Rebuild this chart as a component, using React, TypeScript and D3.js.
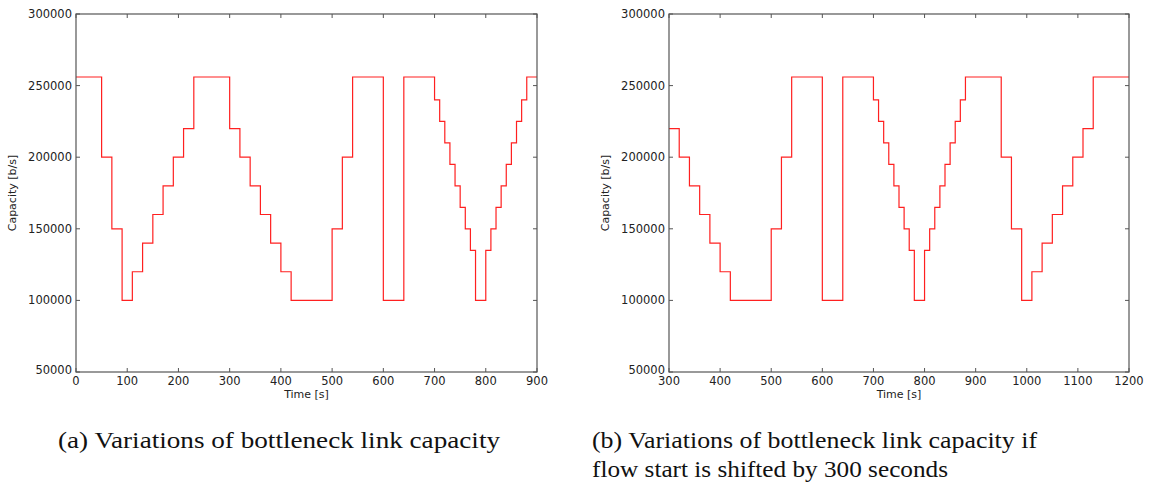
import React, { useEffect, useRef } from 'react';
import * as d3 from 'd3';

// step changes of the bottleneck capacity (time in s, capacity in b/s)
const stepTimes = [0, 50, 70, 90, 110, 130, 150, 170, 190, 210, 230, 300, 320, 340, 360, 380, 400, 420, 500, 520, 540, 600, 640,
    700, 710, 720, 730, 740, 750, 760, 770, 780, 800, 810, 820, 830, 840, 850, 860, 870, 880,
    950, 970, 990, 1010, 1030, 1050, 1070, 1090, 1110, 1130];
const stepCapacity = [256000, 200000, 150000, 100000, 120000, 140000, 160000, 180000, 200000, 220000, 256000,
    220000, 200000, 180000, 160000, 140000, 120000, 100000, 150000, 200000, 256000, 100000, 256000,
    240000, 225000, 210000, 195000, 180000, 165000, 150000, 135000, 100000, 135000, 150000, 165000, 180000, 195000, 210000, 225000, 240000, 256000,
    200000, 150000, 100000, 120000, 140000, 160000, 180000, 200000, 220000, 256000];

const yTicks = [50000, 100000, 150000, 200000, 250000, 300000];
const xTicksA = [0, 100, 200, 300, 400, 500, 600, 700, 800, 900];
const xTicksB = [300, 400, 500, 600, 700, 800, 900, 1000, 1100, 1200];
const captionA = ['(a) Variations of bottleneck link capacity'];
const captionB = ['(b) Variations of bottleneck link capacity if', 'flow start is shifted by 300 seconds'];

const valueAt = (t: number) => {
    let v = stepCapacity[0];
    stepTimes.forEach((s, i) => { if (s <= t) v = stepCapacity[i]; });
    return v;
};

const App = () => {
    const svgRef = useRef<SVGSVGElement>(null);

    useEffect(() => {
        const svg = d3.select(svgRef.current);
        svg.selectAll('*').remove();

        const top = 14, bottom = 372;
        const panels = [
            { left: 76, right: 537, ticks: xTicksA, caption: captionA, capX: 58, capW: [442] },
            { left: 669, right: 1129, ticks: xTicksB, caption: captionB, capX: 592, capW: [445, 356] },
        ];

        const y = d3.scaleLinear().domain([50000, 300000]).range([bottom, top]);

        panels.forEach(p => {
            const domain = [p.ticks[0], p.ticks[p.ticks.length - 1]];
            const x = d3.scaleLinear().domain(domain).range([p.left, p.right]);
            const g = svg.append('g');

            // step data inside the visible window
            const pts = [{ t: domain[0], v: valueAt(domain[0]) }];
            stepTimes.forEach((t, i) => {
                if (t > domain[0] && t < domain[1]) pts.push({ t, v: stepCapacity[i] });
            });
            pts.push({ t: domain[1], v: valueAt(domain[1]) });

            const line = d3.line<{ t: number, v: number }>()
                .x(d => x(d.t))
                .y(d => y(d.v))
                .curve(d3.curveStepAfter);

            g.append('path')
                .datum(pts)
                .attr('d', line)
                .attr('fill', 'none')
                .attr('stroke', '#ff2020')
                .attr('stroke-width', 1.2);

            // frame
            g.append('rect')
                .attr('x', p.left)
                .attr('y', top)
                .attr('width', p.right - p.left)
                .attr('height', bottom - top)
                .attr('fill', 'none')
                .attr('stroke', '#555')
                .attr('stroke-width', 1.2);

            // inward ticks on all sides
            p.ticks.forEach(t => {
                g.append('line').attr('x1', x(t)).attr('x2', x(t)).attr('y1', bottom).attr('y2', bottom - 4)
                    .attr('stroke', '#555');
                g.append('line').attr('x1', x(t)).attr('x2', x(t)).attr('y1', top).attr('y2', top + 4)
                    .attr('stroke', '#555');
                g.append('text')
                    .attr('x', x(t))
                    .attr('y', bottom + 13)
                    .attr('text-anchor', 'middle')
                    .attr('font-family', 'DejaVu Sans')
                    .attr('font-size', 11.5)
                    .attr('fill', '#222')
                    .text(t);
            });
            yTicks.forEach(v => {
                g.append('line').attr('x1', p.left).attr('x2', p.left + 4).attr('y1', y(v)).attr('y2', y(v))
                    .attr('stroke', '#555');
                g.append('line').attr('x1', p.right).attr('x2', p.right - 4).attr('y1', y(v)).attr('y2', y(v))
                    .attr('stroke', '#555');
                g.append('text')
                    .attr('x', p.left - 4)
                    .attr('y', y(v))
                    .attr('dy', v === 50000 ? '0.2em' : '0.35em')
                    .attr('text-anchor', 'end')
                    .attr('font-family', 'DejaVu Sans')
                    .attr('font-size', 11.5)
                    .attr('fill', '#222')
                    .text(v);
            });

            g.append('text')
                .attr('x', (p.left + p.right) / 2)
                .attr('y', bottom + 26)
                .attr('text-anchor', 'middle')
                .attr('font-family', 'DejaVu Sans')
                .attr('font-size', 11)
                .attr('fill', '#222')
                .text('Time [s]');

            g.append('text')
                .attr('transform', `translate(${p.left - 60},${(top + bottom) / 2}) rotate(-90)`)
                .attr('text-anchor', 'middle')
                .attr('font-family', 'DejaVu Sans')
                .attr('font-size', 11)
                .attr('fill', '#222')
                .text('Capacity [b/s]');

            p.caption.forEach((c, i) => {
                g.append('text')
                    .attr('x', p.capX)
                    .attr('y', 448 + i * 29)
                    .style('font-family', "'Liberation Serif', 'DejaVu Serif', serif")
                    .attr('font-size', 23)
                    .attr('fill', '#111')
                    .attr('textLength', p.capW[i])
                    .attr('lengthAdjust', 'spacingAndGlyphs')
                    .text(c);
            });
        });
    }, []);

    return <svg ref={svgRef} width={1151} height={487}
        style={{ position: 'absolute', left: 0, top: 0, background: '#fff' }}></svg>;
};

export default App;
